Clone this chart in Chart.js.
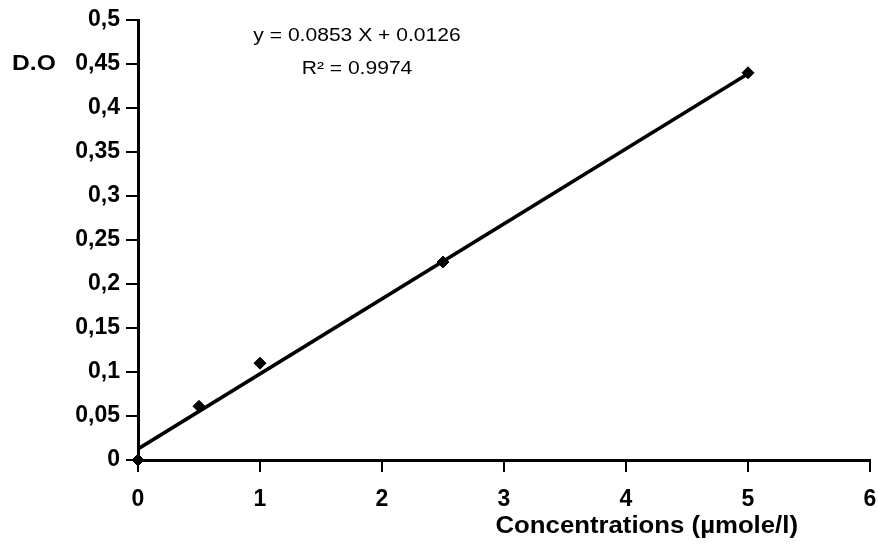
<!DOCTYPE html>
<html>
<head>
<meta charset="utf-8">
<script src="https://cdn.jsdelivr.net/npm/chart.js"></script>
<style>
  body { margin: 0; background: #fff; }
  #wrap { width: 878px; height: 547px; }
</style>
</head>
<body>
<div id="wrap"><canvas id="chart" width="878" height="547"></canvas></div>
<script>
// measured points (concentration, optical density)
const concentrations = [0, 0.5, 1, 2.5, 5];
const densities = [0, 0.061, 0.11, 0.225, 0.44];

// trend line end points
const trendX = [0, 5];
const trendY = [0.0126, 0.439];

const yTickLabels = ['0', '0,05', '0,1', '0,15', '0,2', '0,25', '0,3', '0,35', '0,4', '0,45', '0,5'];
const xTickLabels = ['0', '1', '2', '3', '4', '5', '6'];

const equationLines = ['y = 0.0853 X + 0.0126', 'R² = 0.9974'];
const yLabel = 'D.O';
const xTitle = 'Concentrations (µmole/l)';

const FONT = "'Liberation Sans', Arial, sans-serif";

// the scanned figure is a bit wider than tall, stretch the free text the same way
function wideText(ctx, text, x, y, stretch) {
  ctx.save();
  ctx.translate(x, y);
  ctx.scale(stretch, 1);
  ctx.fillText(text, 0, 0);
  ctx.restore();
}

const textPlugin = {
  id: 'extraText',
  afterDraw(chart) {
    const ctx = chart.ctx;
    const xs = chart.scales.x;
    const ys = chart.scales.y;
    ctx.save();
    ctx.fillStyle = '#000';

    // D.O label next to the 0,45 tick
    ctx.font = 'bold 22px ' + FONT;
    ctx.textAlign = 'left';
    ctx.textBaseline = 'middle';
    wideText(ctx, yLabel, 12, ys.getPixelForValue(0.45), 1.12);

    // regression equation
    ctx.font = '18px ' + FONT;
    ctx.textAlign = 'center';
    ctx.textBaseline = 'alphabetic';
    const cx = xs.getPixelForValue(1.795);
    wideText(ctx, equationLines[0], cx, 41, 1.17);
    wideText(ctx, equationLines[1], cx, 74, 1.17);

    // x axis title
    ctx.font = 'bold 23px ' + FONT;
    ctx.textAlign = 'center';
    ctx.textBaseline = 'middle';
    wideText(ctx, xTitle, xs.getPixelForValue(4.17), 527, 1.12);
    ctx.restore();
  }
};

new Chart(document.getElementById('chart'), {
  type: 'scatter',
  data: {
    datasets: [
      {
        label: 'points',
        data: concentrations.map((c, i) => ({ x: c, y: densities[i] })),
        pointStyle: 'rectRot',
        radius: 6,
        backgroundColor: '#000',
        borderColor: '#000',
        clip: false,
        order: 0
      },
      {
        type: 'line',
        label: 'trend',
        data: trendX.map((c, i) => ({ x: c, y: trendY[i] })),
        borderColor: '#000',
        borderWidth: 3.5,
        pointRadius: 0,
        fill: false,
        order: 1
      }
    ]
  },
  options: {
    responsive: false,
    animation: false,
    layout: { padding: { left: 0, top: 20, right: 8, bottom: 0 } },
    plugins: {
      legend: { display: false },
      tooltip: { enabled: false }
    },
    scales: {
      x: {
        type: 'linear',
        min: 0,
        max: 6,
        afterFit(scale) {
          scale.height = 87;
          scale.paddingRight = 0;
          scale.paddingLeft = 0;
        },
        border: { color: '#000', width: 3 },
        grid: { drawOnChartArea: false, drawTicks: true, tickLength: 12, color: '#000', lineWidth: 2 },
        ticks: {
          stepSize: 1,
          color: '#000',
          padding: 14,
          font: { family: FONT, size: 23, weight: 'bold' },
          callback: (v, i) => xTickLabels[i]
        }
      },
      y: {
        min: 0,
        max: 0.5,
        afterFit(scale) { scale.width = 138; },
        border: { color: '#000', width: 3 },
        grid: { drawOnChartArea: false, drawTicks: true, tickLength: 12, color: '#000', lineWidth: 2 },
        ticks: {
          stepSize: 0.05,
          color: '#000',
          padding: 6,
          font: { family: FONT, size: 23, weight: 'bold' },
          callback: (v, i) => yTickLabels[i]
        }
      }
    }
  },
  plugins: [textPlugin]
});
</script>
</body>
</html>
